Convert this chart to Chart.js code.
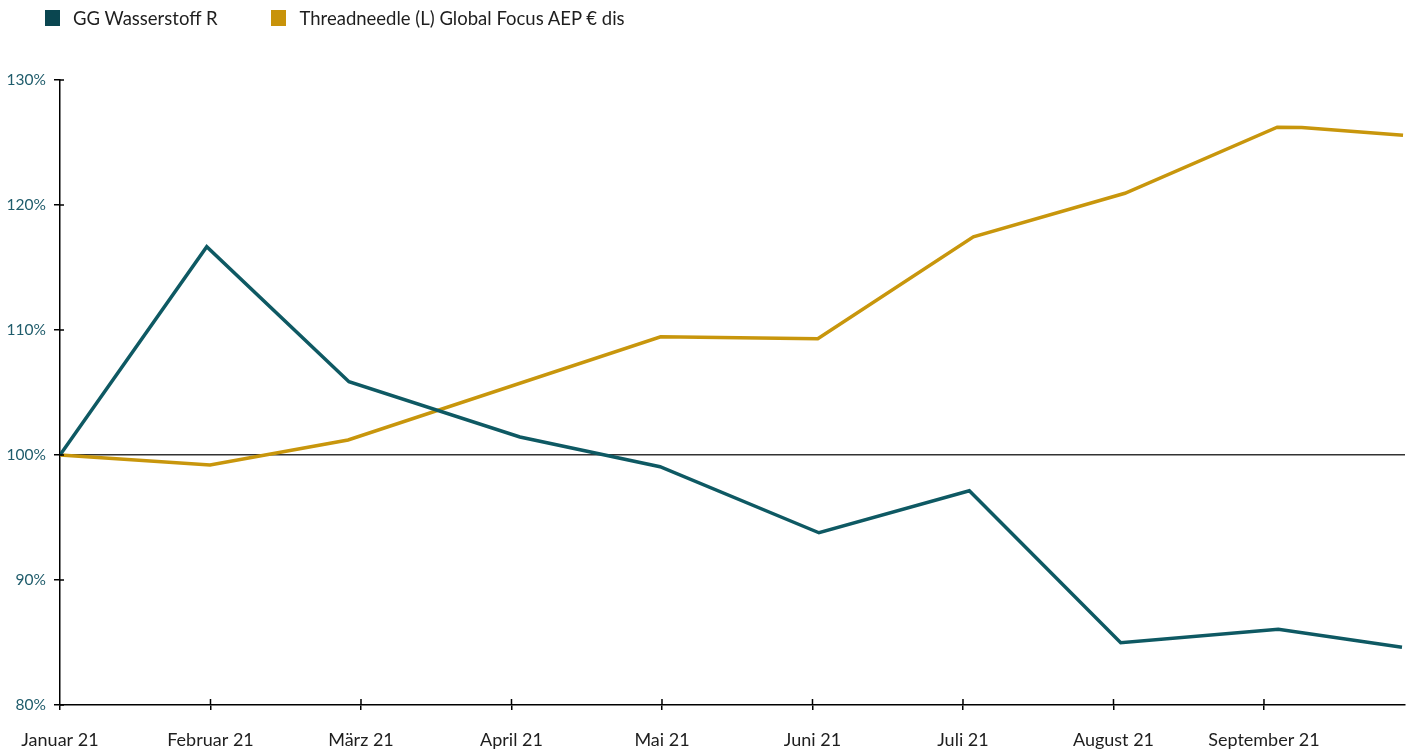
<!DOCTYPE html>
<html lang="de">
<head>
    <meta charset="UTF-8">
    <title>GG Wasserstoff R vs. Threadneedle</title>
    <style>
        body { margin: 0; background: #fff; font-family: Lato, "Open Sans", sans-serif; }
        .wrap { position: relative; width: 1413px; height: 749px; }
        .legend { position: absolute; left: 45px; top: 7px; display: flex; font-size: 18.5px; color: #1e1e1e; }
        .legend span.item { display: flex; align-items: center; margin-right: 54px; }
        .legend i { display: inline-block; width: 15px; height: 16px; margin-right: 13px; }
    </style>
</head>
<body>
    <div class="wrap">
        <div class="legend" id="legend"></div>
        <canvas id="chart"></canvas>
    </div>
    <script src="https://cdn.jsdelivr.net/npm/chart.js"></script>
    <script>
        // month ticks (x = months since Jan 21)
        const months = ["Januar 21", "Februar 21", "März 21", "April 21", "Mai 21", "Juni 21", "Juli 21", "August 21", "September 21"];
        const yTicks = [80, 90, 100, 110, 120, 130];
        const seriesNames = ["GG Wasserstoff R", "Threadneedle (L) Global Focus AEP € dis"];

        // values in % of start, x in month units
        const wasserstoffX = [0, 0.975, 1.92, 3.056, 3.987, 5.043, 6.042, 7.048, 8.095, 8.917];
        const wasserstoffY = [100, 116.66, 105.86, 101.44, 99.06, 93.78, 97.14, 84.98, 86.06, 84.62];
        const threadneedleX = [0, 0.997, 1.914, 3.991, 5.035, 6.069, 7.076, 8.088, 8.251, 8.924];
        const threadneedleY = [100, 99.2, 101.2, 109.46, 109.3, 117.46, 120.94, 126.22, 126.2, 125.58];

        const teal = "#0e5963";
        const gold = "#c8960c";
        const legendColors = ["#0a4650", "#c8930a"];

        const legend = document.getElementById("legend");
        seriesNames.forEach((name, i) => {
            const item = document.createElement("span");
            item.className = "item";
            item.innerHTML = `<i style="background:${legendColors[i]}"></i>`;
            item.appendChild(document.createTextNode(name));
            legend.appendChild(item);
        });

        const toPoints = (xs, ys) => xs.map((x, i) => ({ x: x, y: ys[i] }));

        // short tick marks on the inner side of both axes
        const innerTicks = {
            id: "innerTicks",
            afterDraw(chart) {
                const { ctx, chartArea, scales } = chart;
                ctx.save();
                ctx.strokeStyle = "#000";
                ctx.lineWidth = 1.5;
                ctx.beginPath();
                months.forEach((m, i) => {
                    if (i === 0) return;
                    const x = scales.x.getPixelForValue(i);
                    ctx.moveTo(x, chartArea.bottom);
                    ctx.lineTo(x, chartArea.bottom - 6);
                });
                yTicks.forEach(v => {
                    const y = scales.y.getPixelForValue(v);
                    ctx.moveTo(chartArea.left, y);
                    ctx.lineTo(chartArea.left + 4, y);
                });
                ctx.stroke();
                ctx.restore();
            }
        };

        new Chart(document.getElementById("chart").getContext("2d"), {
            type: "line",
            data: {
                datasets: [{
                    label: seriesNames[0],
                    data: toPoints(wasserstoffX, wasserstoffY),
                    borderColor: teal,
                    borderWidth: 3.5,
                    pointRadius: 0,
                    tension: 0
                }, {
                    label: seriesNames[1],
                    data: toPoints(threadneedleX, threadneedleY),
                    borderColor: gold,
                    borderWidth: 3.5,
                    pointRadius: 0,
                    tension: 0
                }]
            },
            options: {
                responsive: true,
                maintainAspectRatio: false,
                animation: false,
                layout: { padding: { top: 80, right: 8, left: 0, bottom: 0 } },
                plugins: { legend: { display: false }, tooltip: { enabled: false } },
                scales: {
                    x: {
                        type: "linear",
                        min: 0,
                        max: 8.937,
                        afterBuildTicks: s => { s.ticks = months.map((m, i) => ({ value: i })); },
                        afterFit: s => { s.height = 44; },
                        grid: { drawOnChartArea: false, tickLength: 5, tickColor: "#000", lineWidth: 1.5 },
                        border: { color: "#000", width: 1.5 },
                        ticks: {
                            callback: v => months[v],
                            color: "#1e1e1e",
                            font: { family: "Lato", size: 18 },
                            padding: 19,
                            maxRotation: 0,
                            autoSkip: false
                        }
                    },
                    y: {
                        min: 80,
                        max: 130,
                        afterBuildTicks: s => { s.ticks = yTicks.map(v => ({ value: v })); },
                        afterFit: s => { s.width = 60; },
                        grid: {
                            color: c => c.tick && c.tick.value === 100 ? "#333" : "rgba(0,0,0,0)",
                            lineWidth: 1.5,
                            tickLength: 6,
                            tickColor: "#000"
                        },
                        border: { color: "#000", width: 1.5 },
                        ticks: {
                            callback: v => v + "%",
                            color: "#1f5c6b",
                            font: { family: "Lato", size: 15.5 },
                            padding: 8
                        }
                    }
                }
            },
            plugins: [innerTicks]
        });
    </script>
</body>
</html>
